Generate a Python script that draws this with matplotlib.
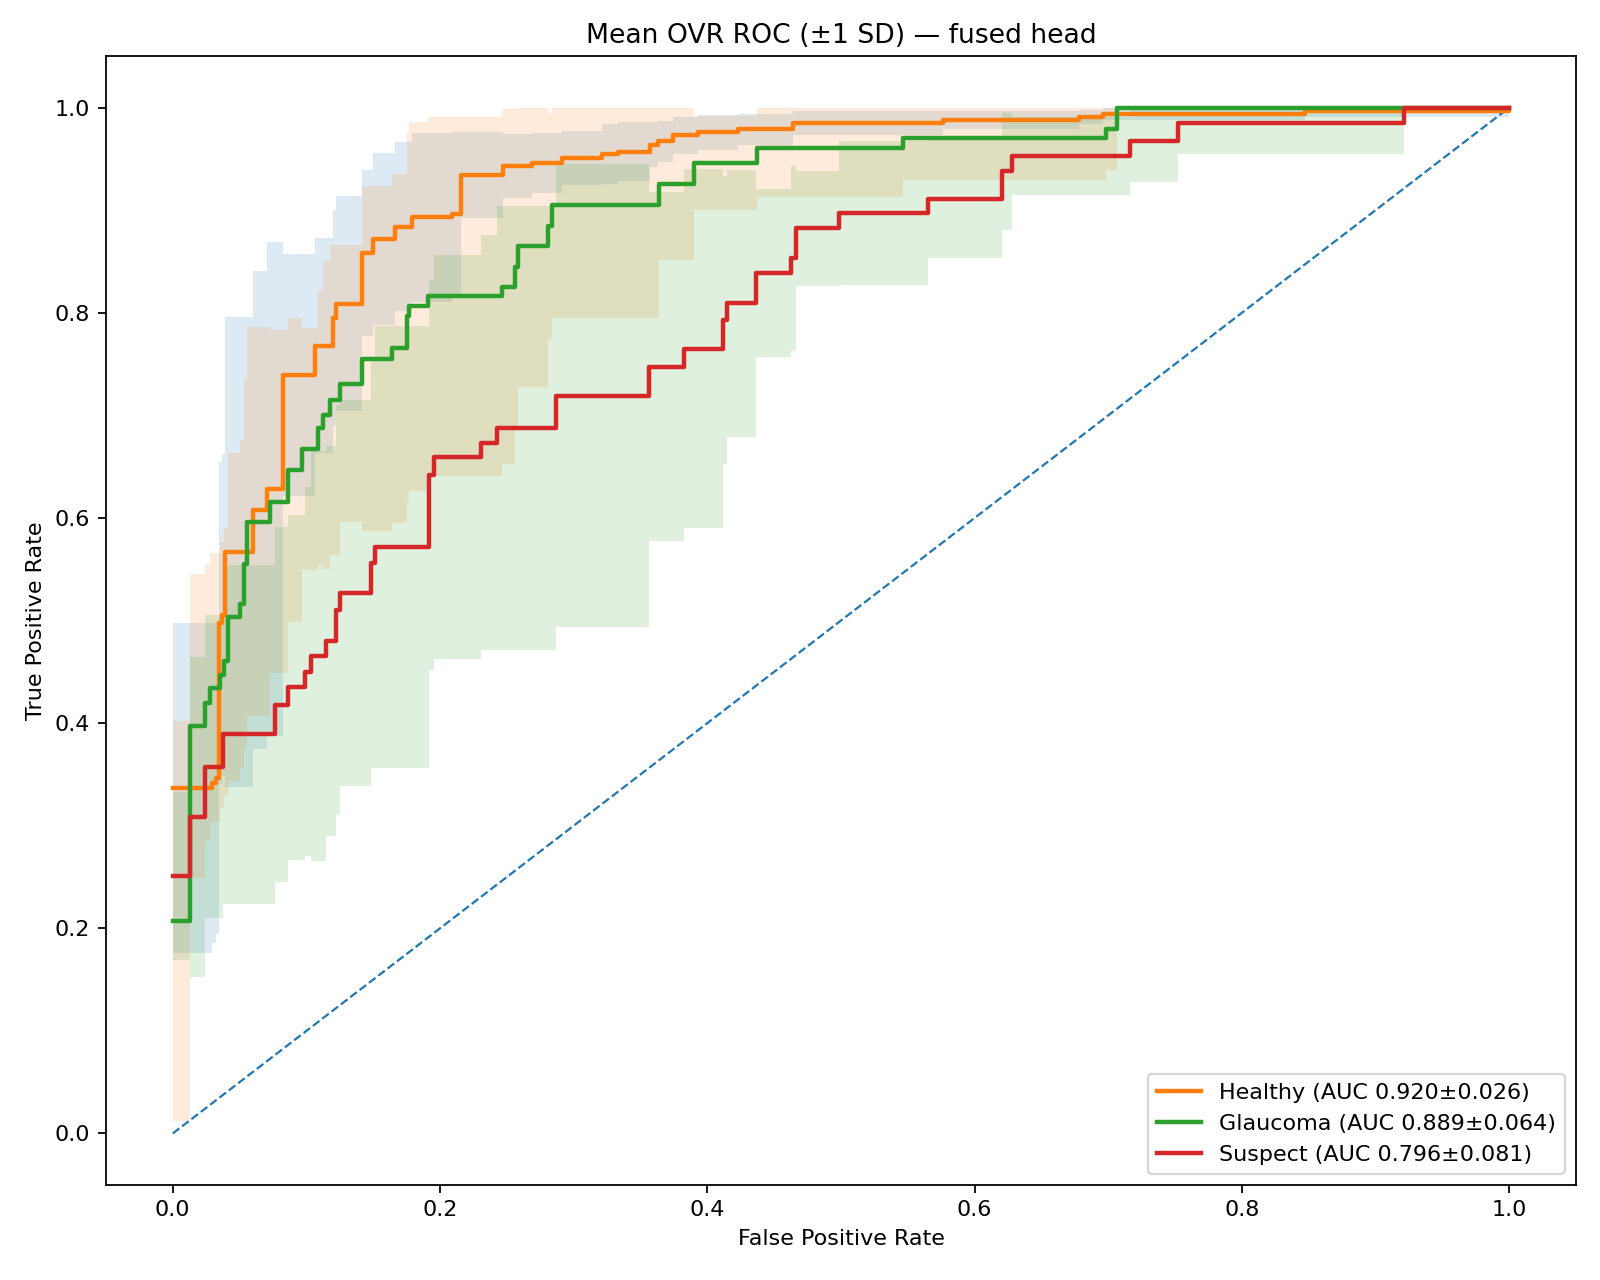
import numpy as np
import matplotlib
matplotlib.use("Agg")
import matplotlib.pyplot as plt

# ---------------- data ----------------
healthy_fpr = [0.0, 0.0292, 0.0325, 0.0349, 0.0372, 0.0390, 0.0603, 0.0703, 0.0828, 0.1065,
               0.1202, 0.1225, 0.1414, 0.1500, 0.1663, 0.1788, 0.2088, 0.2160, 0.2474, 0.2686,
               0.2910, 0.3210, 0.3334, 0.3571, 0.3634, 0.3746, 0.3933, 0.4232, 0.4644, 0.5766,
               0.6780, 0.6960, 0.8470, 1.0]
healthy_tpr = [0.337, 0.342, 0.347, 0.498, 0.505, 0.567, 0.608, 0.628, 0.739, 0.768,
               0.795, 0.809, 0.858, 0.872, 0.884, 0.893, 0.896, 0.934, 0.943, 0.946,
               0.951, 0.955, 0.957, 0.964, 0.967, 0.973, 0.976, 0.979, 0.985, 0.988,
               0.991, 0.994, 0.9965, 1.0]
healthy_sd = [0.161, 0.156, 0.153, 0.157, 0.157, 0.229, 0.233, 0.241, 0.118, 0.105,
              0.105, 0.105, 0.081, 0.084, 0.082, 0.082, 0.080, 0.042, 0.031, 0.029,
              0.026, 0.029, 0.029, 0.022, 0.020, 0.018, 0.017, 0.015, 0.012, 0.009,
              0.007, 0.006, 0.006, 0.0]

glaucoma_fpr = [0.0, 0.0129, 0.0242, 0.0279, 0.0354, 0.0385, 0.0410, 0.0504, 0.0530, 0.0553,
                0.0728, 0.0865, 0.0965, 0.1090, 0.1125, 0.1180, 0.1252, 0.1414, 0.1638, 0.1750,
                0.1765, 0.1910, 0.2462, 0.2561, 0.2580, 0.2810, 0.2840, 0.3641, 0.3900, 0.4370,
                0.5467, 0.6985, 0.7063, 1.0]
glaucoma_tpr = [0.2075, 0.397, 0.420, 0.4345, 0.447, 0.4603, 0.5032, 0.5163, 0.555, 0.5965,
                0.6159, 0.6468, 0.6674, 0.6877, 0.700, 0.715, 0.7308, 0.7553, 0.7655, 0.797,
                0.8063, 0.816, 0.8254, 0.845, 0.8650, 0.8847, 0.9052, 0.9256, 0.9458, 0.961,
                0.9700, 0.979, 1.0, 1.0]
glaucoma_sd = [0.195, 0.148, 0.135, 0.131, 0.130, 0.130, 0.160, 0.160, 0.180, 0.190,
               0.167, 0.148, 0.118, 0.134, 0.150, 0.151, 0.135, 0.168, 0.170, 0.180,
               0.180, 0.175, 0.173, 0.155, 0.137, 0.110, 0.110, 0.074, 0.046, 0.048,
               0.041, 0.040, 0.0, 0.0]

suspect_fpr = [0.0, 0.0129, 0.0242, 0.0375, 0.0766, 0.0865, 0.0990, 0.1035, 0.1145, 0.1220,
               0.1255, 0.1484, 0.1510, 0.1920, 0.1955, 0.2304, 0.2424, 0.2868, 0.3564, 0.3828,
               0.4120, 0.4150, 0.4364, 0.4626, 0.4665, 0.4988, 0.5649, 0.6205, 0.6282, 0.7161,
               0.7522, 0.9214, 1.0]
suspect_tpr = [0.251, 0.3088, 0.3576, 0.3890, 0.4180, 0.4350, 0.4502, 0.4655, 0.4801, 0.5103,
               0.5266, 0.5558, 0.5715, 0.642, 0.6598, 0.6734, 0.6877, 0.7193, 0.7475, 0.7648,
               0.793, 0.8093, 0.8386, 0.8532, 0.8824, 0.897, 0.9110, 0.9380, 0.9524, 0.9675,
               0.9847, 1.0, 1.0]
suspect_sd = [0.082, 0.156, 0.148, 0.165, 0.173, 0.168, 0.180, 0.200, 0.190, 0.200,
              0.188, 0.200, 0.2155, 0.190, 0.197, 0.202, 0.216, 0.226, 0.170, 0.175,
              0.140, 0.130, 0.082, 0.090, 0.056, 0.070, 0.058, 0.057, 0.038, 0.040,
              0.030, 0.0, 0.0]

class_names = ["Healthy", "Glaucoma", "Suspect"]
auc_mean = [0.920, 0.889, 0.796]
auc_sd = [0.026, 0.064, 0.081]

# ---------------- plot ----------------
fig = plt.figure(figsize=(10, 8), dpi=160)
ax = fig.add_axes([0.0662, 0.0744, 0.985 - 0.0662, 0.956 - 0.0744])

ax.plot([0, 1], [0, 1], linestyle="--", linewidth=1, color="C0")

series = [
    (healthy_fpr, healthy_tpr, healthy_sd),
    (glaucoma_fpr, glaucoma_tpr, glaucoma_sd),
    (suspect_fpr, suspect_tpr, suspect_sd),
]
band_colors = ["C0", "C1", "C2"]
line_colors = ["C1", "C2", "C3"]

for i, (fpr, tpr, sd) in enumerate(series):
    fpr = np.asarray(fpr)
    tpr = np.asarray(tpr)
    sd = np.asarray(sd)
    lo = np.clip(tpr - sd, 0, 1)
    hi = np.clip(tpr + sd, 0, 1)
    ax.fill_between(fpr, lo, hi, step="post", alpha=0.15,
                    color=band_colors[i], linewidth=0)
    ax.plot(fpr, tpr, drawstyle="steps-post", linewidth=2, color=line_colors[i],
            label=f"{class_names[i]} (AUC {auc_mean[i]:.3f}±{auc_sd[i]:.3f})")

ax.set_xlim(-0.05, 1.05)
ax.set_ylim(-0.05, 1.05)
ax.set_xlabel("False Positive Rate")
ax.set_ylabel("True Positive Rate")
ax.set_title("Mean OVR ROC (±1 SD) — fused head")
ax.legend(loc="lower right")

fig.savefig("out.png", dpi=160)
